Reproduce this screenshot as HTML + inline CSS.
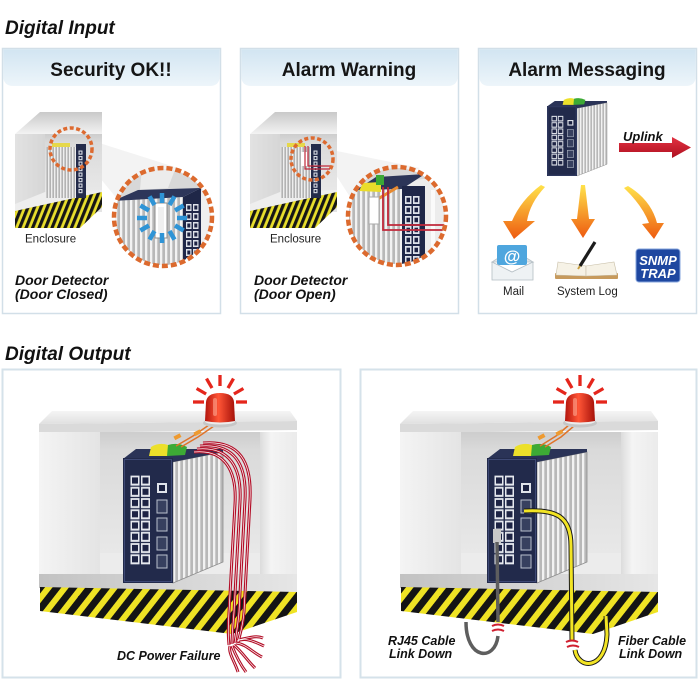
<!DOCTYPE html>
<html><head><meta charset="utf-8"><title>Digital Input / Digital Output</title>
<style>
html,body{margin:0;padding:0;background:#fff;width:699px;height:699px;overflow:hidden}
svg{display:block}
text{font-family:"Liberation Sans",Arial,sans-serif}
.bi{font-weight:bold;font-style:italic;fill:#111}
.h{font-weight:bold;fill:#151515;font-size:19px}
.s{fill:#222;font-size:11.5px}
</style></head><body>
<svg width="699" height="699" viewBox="0 0 699 699">
<defs>
<linearGradient id="hdr" x1="0" y1="0" x2="0" y2="1"><stop offset="0" stop-color="#d2e5f2"/><stop offset="1" stop-color="#edf5fa"/></linearGradient>
<linearGradient id="slab" x1="0" y1="0" x2="0" y2="1"><stop offset="0" stop-color="#f5f5f5"/><stop offset="1" stop-color="#e0e0e0"/></linearGradient>
<linearGradient id="stp" x1="0" y1="0" x2="0" y2="1"><stop offset="0" stop-color="#c9c9c9"/><stop offset="1" stop-color="#f3f3f3"/></linearGradient>
<linearGradient id="lcol" x1="0" y1="0" x2="1" y2="0"><stop offset="0" stop-color="#f4f4f4"/><stop offset="1" stop-color="#e4e4e4"/></linearGradient>
<linearGradient id="lcols" x1="0" y1="0" x2="1" y2="0"><stop offset="0" stop-color="#e2e2e2"/><stop offset="1" stop-color="#d6d6d6"/></linearGradient>
<linearGradient id="rec" x1="0" y1="0" x2="0" y2="1"><stop offset="0" stop-color="#cdcdcd"/><stop offset="0.15" stop-color="#dadada"/><stop offset="1" stop-color="#e8e8e8"/></linearGradient>
<linearGradient id="rcol" x1="0" y1="0" x2="1" y2="0"><stop offset="0" stop-color="#dcdcdc"/><stop offset="0.3" stop-color="#f4f4f4"/><stop offset="1" stop-color="#ebebeb"/></linearGradient>
<linearGradient id="ledge" x1="0" y1="0" x2="1" y2="0"><stop offset="0" stop-color="#c2c2c2"/><stop offset="1" stop-color="#e6e6e6"/></linearGradient>
<linearGradient id="dome" x1="0" y1="0" x2="1" y2="0"><stop offset="0" stop-color="#b3150d"/><stop offset="0.45" stop-color="#ff5536"/><stop offset="1" stop-color="#a6120a"/></linearGradient>
<linearGradient id="org" x1="0" y1="0" x2="0" y2="1"><stop offset="0" stop-color="#ffe24a"/><stop offset="1" stop-color="#ee5a10"/></linearGradient>
<linearGradient id="upl" x1="0" y1="0" x2="0" y2="1"><stop offset="0" stop-color="#e23242"/><stop offset="1" stop-color="#ae1020"/></linearGradient>
<pattern id="hz" width="13" height="13" patternUnits="userSpaceOnUse" patternTransform="rotate(38)"><rect width="13" height="13" fill="#efe324"/><rect width="7" height="13" fill="#141414"/></pattern>
<pattern id="hzs" width="6" height="6" patternUnits="userSpaceOnUse" patternTransform="rotate(22)"><rect width="6" height="6" fill="#e8de2c"/><rect width="3.2" height="6" fill="#161616"/></pattern>
<pattern id="fin" width="5" height="10" patternUnits="userSpaceOnUse"><rect width="5" height="10" fill="#b8b8b8"/><rect width="2.3" height="10" fill="#f2f2f2"/></pattern>
<pattern id="fins" width="3" height="10" patternUnits="userSpaceOnUse"><rect width="3" height="10" fill="#b3b3b3"/><rect width="1.4" height="10" fill="#eeeeee"/></pattern>
<pattern id="rj" x="7" y="17" width="10.5" height="11.25" patternUnits="userSpaceOnUse"><rect x="0.5" y="0.6" width="9" height="10" fill="#e6e9ef"/><rect x="2" y="2.4" width="6" height="6.2" fill="#1d2344"/></pattern>
<pattern id="rjs" x="78" y="150" width="5" height="5.5" patternUnits="userSpaceOnUse"><rect x="0.5" y="0.5" width="4" height="4.2" fill="#d8dce4"/><rect x="1.6" y="1.6" width="1.8" height="2" fill="#1d2344"/></pattern>
<pattern id="rjb" x="186" y="204" width="7" height="9" patternUnits="userSpaceOnUse"><rect width="5.5" height="7" fill="#dfe3ea"/><rect x="1.3" y="1.5" width="3" height="4" fill="#1d2344"/></pattern>
<pattern id="rjc" x="405" y="196" width="8" height="10" patternUnits="userSpaceOnUse"><rect width="6.5" height="8" fill="#dfe3ea"/><rect x="1.5" y="1.7" width="3.5" height="4.5" fill="#1d2344"/></pattern>
<clipPath id="c1"><circle cx="163" cy="217" r="48"/></clipPath>
<clipPath id="c2"><circle cx="397" cy="216" r="48"/></clipPath>

<g id="sw">
 <polygon points="50,4 100,-6 100,104 50,125" fill="url(#fin)"/>
 <polygon points="50,4 100,-6 100,104 50,125" fill="none" stroke="#8d8d8d" stroke-width="0.8"/>
 <polygon points="0,1 13,-9 100,-9 100,-6 50,4 50,1" fill="#2a3357"/>
 <rect x="0" y="0" width="50" height="125" fill="#222a4b"/>
 <rect x="1.5" y="1.5" width="47" height="122" fill="none" stroke="#3e4975" stroke-width="1"/>
 <rect x="7" y="17" width="21" height="90" fill="url(#rj)"/>
 <rect x="34" y="25" width="10" height="10" fill="#dfe3ea"/>
 <rect x="36" y="27" width="6" height="6" fill="#1b2140"/>
 <rect x="34" y="42" width="10" height="13" fill="#37405f" stroke="#b9c0cc" stroke-width="1"/>
 <rect x="34" y="60" width="10" height="13" fill="#37405f" stroke="#b9c0cc" stroke-width="1"/>
 <rect x="34" y="79" width="10" height="13" fill="#37405f" stroke="#b9c0cc" stroke-width="1"/>
 <rect x="34" y="97" width="10" height="13" fill="#37405f" stroke="#b9c0cc" stroke-width="1"/>
 <path d="M26,-2 L28,-11 Q36,-16 45,-13 L45,-2 Z" fill="#ece02a"/>
 <path d="M44,-2 L45,-13 Q55,-16 64,-11 L62,-3 Z" fill="#3daa35"/>
</g>

<g id="sir">
 <g stroke="#e5261c" stroke-width="3.3">
  <line x1="16" y1="0" x2="27" y2="0"/>
  <line x1="13.9" y1="-8" x2="23.4" y2="-13.5"/>
  <line x1="8" y1="-13.9" x2="13.5" y2="-23.4"/>
  <line x1="0" y1="-16" x2="0" y2="-27"/>
  <line x1="-8" y1="-13.9" x2="-13.5" y2="-23.4"/>
  <line x1="-13.9" y1="-8" x2="-23.4" y2="-13.5"/>
  <line x1="-16" y1="0" x2="-27" y2="0"/>
 </g>
 <ellipse cx="0" cy="21" rx="17" ry="4.5" fill="#c6c6c6"/>
 <ellipse cx="0" cy="19.5" rx="15" ry="3" fill="#ececec"/>
 <path d="M-15,19 L-14,0 Q-13,-9 0,-9 Q13,-9 14,0 L15,19 Q0,22 -15,19 Z" fill="url(#dome)"/>
 <rect x="-7" y="-4" width="4" height="18" rx="2" fill="#ffb09a" opacity="0.55"/>
</g>

<g id="enc">
 <polygon points="39,424 52,411 290,411 297,421" fill="url(#slab)"/>
 <polygon points="39,424 297,421 297,430 39,433" fill="#dadada"/>
 <rect x="39" y="432" width="258" height="143" fill="#f1f1f1"/>
 <rect x="39" y="432" width="61" height="143" fill="url(#lcol)"/>
 <rect x="100" y="432" width="160" height="122" fill="url(#rec)"/>
 <rect x="260" y="432" width="37" height="143" fill="url(#rcol)"/>
 <rect x="100" y="553" width="160" height="22" fill="#ececec"/>
 <polygon points="39,574 297,574 297,592 39,588" fill="url(#ledge)"/>
 <polygon points="40,587 297,592 297,612 232,634 40,611" fill="url(#hz)"/>
</g>

<g id="sbox">
 <rect x="15" y="134" width="87" height="78" fill="#e4e4e4"/>
 <polygon points="15,134 40,112 102,112 102,134" fill="url(#stp)"/>
 <rect x="15" y="134" width="30" height="70" fill="url(#lcols)"/>
 <rect x="45" y="134" width="57" height="58" fill="url(#rec)"/>
 <polygon points="15,204 45,192 102,190 102,196 15,212" fill="#eeeeee"/>
 <polygon points="15,211 102,192 102,207 80,228 15,228" fill="url(#hzs)"/>
 <rect x="46" y="147" width="30" height="51" fill="url(#fins)"/>
 <rect x="76" y="144" width="10" height="54" fill="#232b4a"/>
 <rect x="78" y="150" width="5" height="44" fill="url(#rjs)"/>
 <rect x="52" y="143" width="18" height="4" fill="#e6d84a"/>
</g>

<g id="cab4" fill="none">
 <path d="M203,443 C240,440 252,462 250,500 L244,612 C243,625 240,635 238,642"/>
 <path d="M200,446 C235,443 247,465 245,500 L239,612 C238,625 236,635 235,643"/>
 <path d="M197,449 C230,446 242,468 240,502 L234,612 C233,625 232,635 232,644"/>
 <path d="M194,452 C225,449 237,471 235,504 L229,612 C228,625 228,635 229,645"/>
 <path d="M237,641 C246,637 255,642 264,646"/>
 <path d="M236,643 C246,644 252,652 262,657"/>
 <path d="M234,645 C242,652 247,660 255,668"/>
 <path d="M232,646 C236,656 240,664 246,672"/>
 <path d="M230,646 C228,653 235,662 238,672"/>
 <path d="M238,640 C248,638 256,635 263,638"/>
</g>
</defs>

<!-- titles -->
<text x="5" y="34" class="bi" font-size="19">Digital Input</text>
<text x="5" y="360" class="bi" font-size="19">Digital Output</text>

<!-- top panels -->
<rect x="2.5" y="48.5" width="218" height="265" fill="#fff" stroke="#d2dfe8" stroke-width="1.5"/>
<path d="M3.3,49.3 H219.7 V76 Q219.7,86 209.7,86 H13.3 Q3.3,86 3.3,76 Z" fill="url(#hdr)"/>
<text x="111" y="76" class="h" text-anchor="middle">Security OK!!</text>

<rect x="240.5" y="48.5" width="218" height="265" fill="#fff" stroke="#d2dfe8" stroke-width="1.5"/>
<path d="M241.3,49.3 H457.7 V76 Q457.7,86 447.7,86 H251.3 Q241.3,86 241.3,76 Z" fill="url(#hdr)"/>
<text x="349" y="76" class="h" text-anchor="middle">Alarm Warning</text>

<rect x="478.5" y="48.5" width="218" height="265" fill="#fff" stroke="#d2dfe8" stroke-width="1.5"/>
<path d="M479.3,49.3 H695.7 V76 Q695.7,86 685.7,86 H489.3 Q479.3,86 479.3,76 Z" fill="url(#hdr)"/>
<text x="587" y="76" class="h" text-anchor="middle">Alarm Messaging</text>

<!-- panel 1 -->
<polygon points="90,140 178,168 118,200 100,178" fill="#f3f3f3"/>
<use href="#sbox"/>
<circle cx="71" cy="149" r="21" fill="none" stroke="#dd6a30" stroke-width="3.5" stroke-dasharray="4 2.5"/>
<g clip-path="url(#c1)">
 <rect x="113" y="167" width="100" height="102" fill="#efefef"/>
 <polygon points="113,167 213,167 213,189 113,200" fill="#d8d8d8"/>
 <polygon points="142,167 176,167 168,188 140,190" fill="#ececec"/>
 <polygon points="113,270 113,201 183,197 183,270" fill="url(#fin)"/>
 <polygon points="113,201 138,190 201,188 183,197" fill="#2d365a"/>
 <polygon points="183,197 201,188 201,270 183,270" fill="#1f2748"/>
 <rect x="186" y="204" width="13" height="60" fill="url(#rjb)"/>
 <rect x="155" y="203" width="12" height="35" fill="#fff" stroke="#8e8e8e" stroke-width="1"/>
 <rect x="158" y="207" width="6" height="27" fill="#f0f0f0"/>
 <g stroke="#2f94d6" stroke-width="4.5" transform="translate(162,218)">
  <line x1="15" y1="0" x2="25" y2="0"/>
  <line x1="15" y1="0" x2="25" y2="0" transform="rotate(30)"/>
  <line x1="15" y1="0" x2="25" y2="0" transform="rotate(60)"/>
  <line x1="15" y1="0" x2="25" y2="0" transform="rotate(90)"/>
  <line x1="15" y1="0" x2="25" y2="0" transform="rotate(120)"/>
  <line x1="15" y1="0" x2="25" y2="0" transform="rotate(150)"/>
  <line x1="15" y1="0" x2="25" y2="0" transform="rotate(180)"/>
  <line x1="15" y1="0" x2="25" y2="0" transform="rotate(210)"/>
  <line x1="15" y1="0" x2="25" y2="0" transform="rotate(240)"/>
  <line x1="15" y1="0" x2="25" y2="0" transform="rotate(270)"/>
  <line x1="15" y1="0" x2="25" y2="0" transform="rotate(300)"/>
  <line x1="15" y1="0" x2="25" y2="0" transform="rotate(330)"/>
 </g>
</g>
<circle cx="163" cy="217" r="49" fill="none" stroke="#dc6a2e" stroke-width="4.5" stroke-dasharray="6 3"/>
<text x="25" y="242.5" class="s">Enclosure</text>
<text x="15" y="285" class="bi" font-size="14">Door Detector</text>
<text x="15" y="299" class="bi" font-size="14">(Door Closed)</text>

<!-- panel 2 -->
<polygon points="332,150 420,168 352,200 334,172" fill="#f3f3f3"/>
<use href="#sbox" transform="translate(235,0)"/>
<rect x="301" y="152" width="6" height="14" fill="#fff"/>
<path d="M305,146 V169 H330 M308,146 V166 H330" fill="none" stroke="#c0283a" stroke-width="1.2"/>
<circle cx="312" cy="159" r="21" fill="none" stroke="#dd6a30" stroke-width="3.5" stroke-dasharray="4 2.5"/>
<g clip-path="url(#c2)">
 <rect x="347" y="166" width="102" height="102" fill="#ececec"/>
 <polygon points="347,166 449,166 449,176 347,188" fill="#d8d8d8"/>
 <rect x="347" y="188" width="55" height="82" fill="url(#fin)"/>
 <polygon points="356,190 376,177 425,174 402,189" fill="#2c3558"/>
 <rect x="402" y="186" width="23" height="84" fill="#1f2748"/>
 <rect x="405" y="196" width="16" height="70" fill="url(#rjc)"/>
 <rect x="431" y="190" width="4" height="70" fill="#fafafa"/>
 <polygon points="359,191 363,183 381,182 381,192" fill="#eadc2a"/>
 <rect x="376" y="175" width="8" height="10" fill="#3ba836"/>
 <line x1="371" y1="203" x2="398" y2="187" stroke="#e88a30" stroke-width="3"/>
 <rect x="369" y="197" width="10" height="27" fill="#fff" stroke="#aaa" stroke-width="1"/>
 <path d="M383,187 V230 H447 M388,187 V225 H447" fill="none" stroke="#c0283a" stroke-width="1.8"/>
</g>
<circle cx="397" cy="216" r="49" fill="none" stroke="#dc6a2e" stroke-width="4.5" stroke-dasharray="6 3"/>
<text x="270" y="242.5" class="s">Enclosure</text>
<text x="254" y="285" class="bi" font-size="14">Door Detector</text>
<text x="254" y="299" class="bi" font-size="14">(Door Open)</text>

<!-- panel 3 -->
<use href="#sw" transform="translate(547,106) scale(0.6,0.56)"/>
<polygon points="619,143 672,143 672,137 691,147.5 672,158 672,152 619,152" fill="url(#upl)"/>
<text x="623" y="141" class="bi" font-size="13">Uplink</text>
<path d="M541,185 L545,187 Q530,203 527,221 L535,221 L514,239 L503,221 L512,221 Q521,200 541,185 Z" fill="url(#org)"/>
<path d="M581,185 L585,185 L589,219 L595,219 L583,238 L571,219 L577,219 Z" fill="url(#org)"/>
<path d="M624,188 L628,186 Q651,200 657,223 L664,223 L654,239 L642,224 L649,223 Q642,205 624,188 Z" fill="url(#org)"/>
<!-- mail -->
<polygon points="492,262 512,249 533,262" fill="#dfe5e9" stroke="#b8c2c8" stroke-width="0.8"/>
<rect x="497" y="245" width="30" height="20" rx="2" fill="#4ea6de"/>
<text x="512" y="262" text-anchor="middle" font-size="17" font-weight="bold" fill="#fff">@</text>
<polygon points="492,262 512,272 533,262 533,280 492,280" fill="#eef2f4" stroke="#b4bec4" stroke-width="0.8"/>
<text x="503" y="295" class="s">Mail</text>
<!-- book -->
<rect x="555" y="273" width="63" height="6" rx="1" fill="#c79a5c"/>
<polygon points="558,262 586,266 586,276 556,275" fill="#f6f2e6" stroke="#c8bfa8" stroke-width="0.6"/>
<polygon points="586,266 614,262 617,275 586,276" fill="#f6f2e6" stroke="#c8bfa8" stroke-width="0.6"/>
<line x1="580" y1="266" x2="595" y2="242" stroke="#1c1c1c" stroke-width="3.2"/>
<line x1="578" y1="269" x2="580" y2="266" stroke="#c9a040" stroke-width="2"/>
<text x="557" y="295" class="s">System Log</text>
<!-- snmp -->
<rect x="636" y="249" width="44" height="33" rx="3" fill="#1e47a0" stroke="#86a4dc" stroke-width="1"/>
<text x="658" y="265" text-anchor="middle" font-size="13" font-weight="bold" font-style="italic" fill="#fff">SNMP</text>
<text x="658" y="278" text-anchor="middle" font-size="13" font-weight="bold" font-style="italic" fill="#fff">TRAP</text>

<!-- bottom panels -->
<rect x="2.5" y="369.5" width="338" height="308" fill="#fff" stroke="#d5e2ea" stroke-width="2"/>
<rect x="360.5" y="369.5" width="336" height="308" fill="#fff" stroke="#d5e2ea" stroke-width="2"/>

<!-- panel 4 -->
<use href="#enc"/>
<use href="#sw" transform="translate(123,458)"/>
<g fill="none" stroke="#e0742a" stroke-width="1.5">
 <path d="M176,446 L193,436 L209,425"/><path d="M181,447 L198,437 L214,426"/>
</g>
<rect x="174" y="435" width="7" height="4" fill="#ee9a30" transform="rotate(-28 177 437)"/>
<rect x="194" y="431" width="7" height="4" fill="#ee9a30" transform="rotate(-28 197 433)"/>
<use href="#sir" transform="translate(220,402)"/>
<use href="#cab4" stroke="#b20f28" stroke-width="3"/>
<use href="#cab4" stroke="#ffffff" stroke-width="0.7"/>
<text x="117" y="660" class="bi" font-size="12.5">DC Power Failure</text>

<!-- panel 5 -->
<use href="#enc" transform="translate(361,0)"/>
<use href="#sw" transform="translate(487,458)"/>
<g fill="none" stroke="#e0742a" stroke-width="1.5">
 <path d="M540,446 L556,436 L569,425"/><path d="M545,447 L561,437 L574,426"/>
</g>
<rect x="538" y="435" width="7" height="4" fill="#ee9a30" transform="rotate(-28 541 437)"/>
<rect x="556" y="431" width="7" height="4" fill="#ee9a30" transform="rotate(-28 559 433)"/>
<use href="#sir" transform="translate(580,402)"/>
<!-- gray rj45 cable -->
<rect x="493" y="529" width="8" height="14" fill="#c8c8c8"/>
<path d="M497,542 L498,622" fill="none" stroke="#5e5e5e" stroke-width="3.5"/>
<path d="M466,622 C466,660 495,662 498,636" fill="none" stroke="#5e5e5e" stroke-width="3.5"/>
<path d="M492,626 q6,-3 12,0 M492,631 q6,-3 12,0" fill="none" stroke="#d02030" stroke-width="2"/>
<!-- yellow fiber -->
<path d="M524,511 C556,509 571,516 571,546 L572,640" fill="none" stroke="#1a1a1a" stroke-width="5"/>
<path d="M524,511 C556,509 571,516 571,546 L572,640" fill="none" stroke="#f2e424" stroke-width="3"/>
<path d="M575,650 C578,670 606,670 607,634 L606,616" fill="none" stroke="#1a1a1a" stroke-width="5"/>
<path d="M575,650 C578,670 606,670 607,634 L606,616" fill="none" stroke="#f2e424" stroke-width="3"/>
<path d="M566,642 q6,-3 12,0 M567,647 q6,-3 12,0" fill="none" stroke="#d02030" stroke-width="2"/>
<text x="388" y="645" class="bi" font-size="12.5">RJ45 Cable</text>
<text x="389" y="658" class="bi" font-size="12.5">Link Down</text>
<text x="618" y="645" class="bi" font-size="12.5">Fiber Cable</text>
<text x="619" y="658" class="bi" font-size="12.5">Link Down</text>
</svg>
</body></html>
